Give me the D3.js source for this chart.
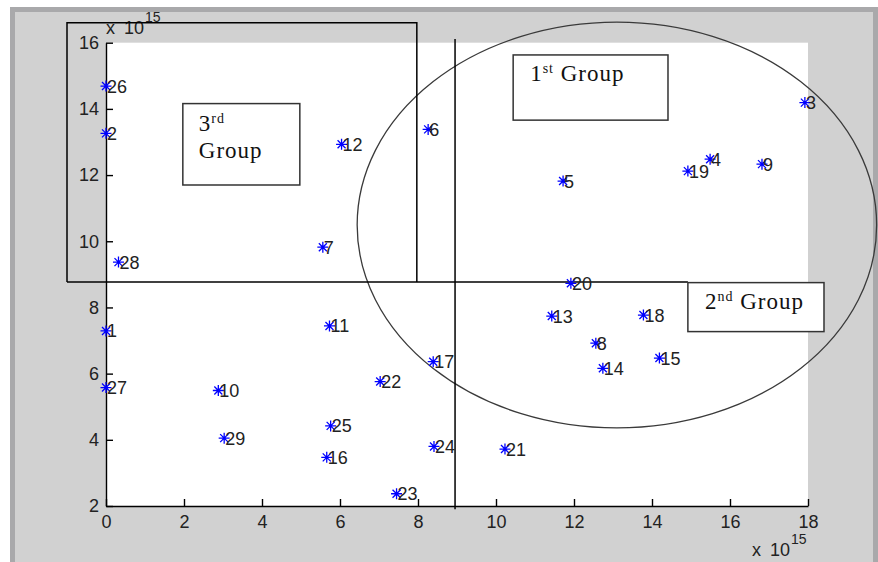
<!DOCTYPE html>
<html>
<head>
<meta charset="utf-8">
<script src="https://cdn.jsdelivr.net/npm/d3@7"></script>
<style>
  html, body { margin: 0; padding: 0; background: #ffffff; }
  svg { display: block; }
</style>
</head>
<body>
<svg id="chart" width="878" height="562"></svg>
<script>
// ---- data (values in units of 10^15) ----
const pointIds = [1, 2, 3, 4, 5, 6, 7, 8, 9, 10, 11, 12, 13, 14, 15, 16, 17, 18, 19, 20, 21, 22, 23, 24, 25, 26, 27, 28, 29];
const xValues  = [0.00, 0.00, 17.92, 15.49, 11.72, 8.26, 5.56, 12.56, 16.82, 2.88, 5.73, 6.04, 11.43, 12.74, 14.19, 5.66, 8.39, 13.78, 14.92, 11.92, 10.23, 7.03, 7.45, 8.41, 5.76, 0.00, 0.00, 0.32, 3.03];
const yValues  = [7.29, 13.26, 14.19, 12.48, 11.82, 13.38, 9.82, 6.92, 12.33, 5.49, 7.44, 12.93, 7.74, 6.16, 6.47, 3.47, 6.36, 7.77, 12.12, 8.73, 3.72, 5.76, 2.37, 3.80, 4.42, 14.69, 5.58, 9.37, 4.05];
const xTicks = [0, 2, 4, 6, 8, 10, 12, 14, 16, 18];
const yTicks = [2, 4, 6, 8, 10, 12, 14, 16];
const xDomain = [0, 18];
const yDomain = [2, 16];

// annotation geometry in data units
const splitX = 8.95;            // vertical divider
const splitY = 8.77;            // horizontal divider
const groupEllipse = { cx: 13.1, cy: 10.49, rx: 6.66, ry: 6.13 };
const thirdRegion = { x0: -1.0, x1: 7.97, y0: 16.6, y1: 8.77 };
const labelBoxes = [
  { ord: "1", sup: "st", word: " Group", x0: 10.44, x1: 14.41, y0: 15.63, y1: 13.66, twoLine: false },
  { ord: "2", sup: "nd", word: " Group", x0: 14.92, x1: 18.41, y0: 8.75, y1: 7.27, twoLine: false },
  { ord: "3", sup: "rd", word: "Group", x0: 1.97, x1: 4.97, y0: 14.16, y1: 11.70, twoLine: true }
];

// ---- drawing ----
const svg = d3.select("#chart");
const W = 878, H = 562;

// figure background
svg.append("rect").attr("x", 0).attr("y", 0).attr("width", W).attr("height", H).attr("fill", "#ffffff");
svg.append("rect").attr("x", 10).attr("y", 7).attr("width", W - 10).attr("height", H - 7).attr("fill", "#a9a9ab");
svg.append("rect").attr("x", 15).attr("y", 12).attr("width", 858).attr("height", H - 12).attr("fill", "#d1d1d1");

const x = d3.scaleLinear().domain(xDomain).range([106, 808]);
const y = d3.scaleLinear().domain(yDomain).range([506, 42.7]);

// plot area
svg.append("rect")
  .attr("x", x(xDomain[0])).attr("y", y(yDomain[1]))
  .attr("width", x(xDomain[1]) - x(xDomain[0]))
  .attr("height", y(yDomain[0]) - y(yDomain[1]))
  .attr("fill", "#ffffff");

const tickFont = "'Liberation Sans', Arial, sans-serif";

// axes
const xAxis = d3.axisBottom(x).tickValues(xTicks).tickSizeInner(-7).tickSizeOuter(0).tickPadding(9).tickFormat(d3.format("d"));
const yAxis = d3.axisLeft(y).tickValues(yTicks).tickSizeInner(-7).tickSizeOuter(0).tickPadding(7).tickFormat(d3.format("d"));

const gx = svg.append("g").attr("transform", `translate(0,${y(yDomain[0])})`).call(xAxis);
const gy = svg.append("g").attr("transform", `translate(${x(xDomain[0])},0)`).call(yAxis);
[gx, gy].forEach(g => {
  g.select(".domain").attr("stroke", "#000").attr("stroke-width", 1.4);
  g.selectAll(".tick line").attr("stroke", "#000").attr("stroke-width", 1.4);
  g.selectAll(".tick text").attr("fill", "#222").style("font-family", tickFont).style("font-size", "18px");
});

// exponent labels
function expLabel(xp, yb) {
  const t = svg.append("text").attr("x", xp).attr("y", yb)
    .style("font-family", tickFont).style("font-size", "18px").attr("fill", "#222");
  t.append("tspan").text("x");
  t.append("tspan").attr("dx", 9).text("10");
  t.append("tspan").attr("dx", 1).attr("dy", -12).style("font-size", "14px").text("15");
}
expLabel(106, 34);
expLabel(752, 556);

// annotation shapes
const ann = svg.append("g").attr("fill", "none");
ann.append("ellipse")
  .attr("cx", x(groupEllipse.cx)).attr("cy", y(groupEllipse.cy))
  .attr("rx", x(groupEllipse.cx + groupEllipse.rx) - x(groupEllipse.cx))
  .attr("ry", y(groupEllipse.cy - groupEllipse.ry) - y(groupEllipse.cy))
  .attr("stroke", "#3a3a3a").attr("stroke-width", 1.3);

ann.append("path")
  .attr("d", `M${x(thirdRegion.x0)},${y(thirdRegion.y1)} V${y(thirdRegion.y0)} H${x(thirdRegion.x1)} V${y(thirdRegion.y1)}`)
  .attr("stroke", "#000").attr("stroke-width", 1.5);

ann.append("line")
  .attr("x1", x(thirdRegion.x0)).attr("x2", x(labelBoxes[1].x0))
  .attr("y1", y(splitY)).attr("y2", y(splitY))
  .attr("stroke", "#000").attr("stroke-width", 1.5);

ann.append("line")
  .attr("x1", x(splitX)).attr("x2", x(splitX))
  .attr("y1", y(16.11)).attr("y2", y(1.9))
  .attr("stroke", "#000").attr("stroke-width", 1.5);

// group label boxes
const serif = "'Liberation Serif', 'Times New Roman', serif";
labelBoxes.forEach(b => {
  const bx = x(b.x0), by = y(b.y0), bw = x(b.x1) - x(b.x0), bh = y(b.y1) - y(b.y0);
  svg.append("rect").attr("x", bx).attr("y", by).attr("width", bw).attr("height", bh)
    .attr("fill", "#ffffff").attr("stroke", "#333").attr("stroke-width", 1.5);
  const t = svg.append("text").style("font-family", serif).style("font-size", "23px")
    .attr("fill", "#111").style("letter-spacing", "1px");
  if (b.twoLine) {
    t.attr("x", bx + 16).attr("y", by + 27);
    t.append("tspan").text(b.ord);
    t.append("tspan").attr("dy", -8).style("font-size", "14px").text(b.sup);
    svg.append("text").attr("x", bx + 16).attr("y", by + 54)
      .style("font-family", serif).style("font-size", "23px").style("letter-spacing", "1px")
      .attr("fill", "#111").text(b.word);
  } else {
    t.attr("x", bx + 17).attr("y", by + 26);
    t.append("tspan").text(b.ord);
    t.append("tspan").attr("dy", -8).style("font-size", "14px").text(b.sup);
    t.append("tspan").attr("dy", 8).text(b.word);
  }
});

// points
const pts = pointIds.map((id, i) => ({ id, vx: xValues[i], vy: yValues[i] }));
const r = 5.5, rd = 4;
const starPath = `M${-r},0H${r}M0,${-r}V${r}M${-rd},${-rd}L${rd},${rd}M${-rd},${rd}L${rd},${-rd}`;

const pg = svg.append("g");
pg.selectAll("path.pt").data(pts).join("path")
  .attr("class", "pt")
  .attr("transform", d => `translate(${x(d.vx)},${y(d.vy)})`)
  .attr("d", starPath)
  .attr("stroke", "#0000ff").attr("stroke-width", 1.3).attr("fill", "none");

pg.selectAll("text.lbl").data(pts).join("text")
  .attr("class", "lbl")
  .attr("x", d => x(d.vx) + 1)
  .attr("y", d => y(d.vy))
  .attr("dy", "0.36em")
  .style("font-family", tickFont).style("font-size", "18px")
  .attr("fill", "#222")
  .text(d => d.id);
</script>
</body>
</html>
